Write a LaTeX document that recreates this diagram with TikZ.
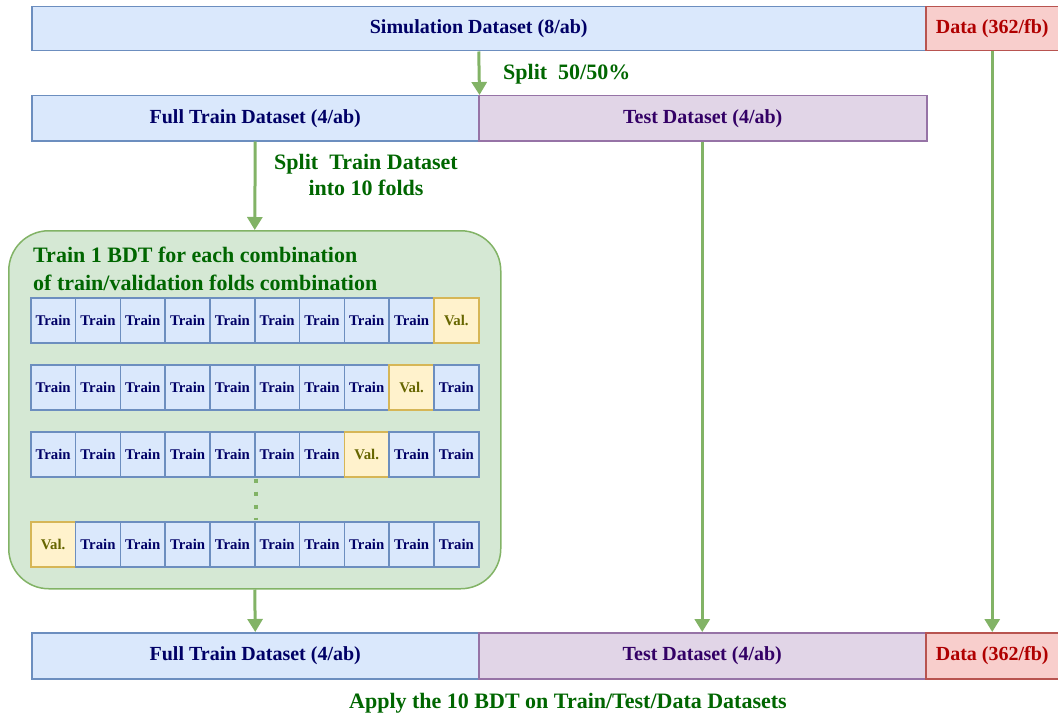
\documentclass[tikz,border=0pt]{standalone}
\usepackage{fontspec}
\setmainfont{Liberation Serif}
\usetikzlibrary{arrows.meta}
\definecolor{bfill}{HTML}{DAE8FC}\definecolor{bline}{HTML}{6C8EBF}\definecolor{btext}{HTML}{000066}
\definecolor{pfill}{HTML}{E1D5E7}\definecolor{pline}{HTML}{9673A6}\definecolor{ptext}{HTML}{330066}
\definecolor{rfill}{HTML}{F8CECC}\definecolor{rline}{HTML}{B85450}\definecolor{rtext}{HTML}{B00000}
\definecolor{yfill}{HTML}{FFF2CC}\definecolor{yline}{HTML}{D6B656}\definecolor{ytext}{HTML}{666600}
\definecolor{gfill}{HTML}{D5E8D4}\definecolor{gline}{HTML}{82B366}\definecolor{gtext}{HTML}{006600}
\tikzset{
  box/.style={draw, line width=1.5pt, inner sep=0pt, anchor=north west, font=\bfseries\fontsize{20}{24}\selectfont},
  bluebox/.style={box, fill=bfill, draw=bline, text=btext},
  purplebox/.style={box, fill=pfill, draw=pline, text=ptext},
  redbox/.style={box, fill=rfill, draw=rline, text=rtext},
  cell/.style={draw, line width=1.5pt, inner sep=0pt, anchor=north west, minimum width=44.8pt, minimum height=45pt, font=\bfseries\fontsize{14.8}{17}\selectfont},
  traincell/.style={cell, fill=bfill, draw=bline, text=btext},
  valcell/.style={cell, fill=yfill, draw=yline, text=ytext},
  flow/.style={draw=gline, line width=3pt, -{Triangle[length=13pt,width=15pt]}},
  lbl/.style={text=gtext, font=\bfseries\fontsize{22}{26}\selectfont, inner sep=0pt}
}
\begin{document}
\begin{tikzpicture}[x=1pt,y=-1pt]
\useasboundingbox (0,0) rectangle (1058,717);
% top row
\node[bluebox, minimum width=894pt, minimum height=44pt] (sim) at (31,6) {Simulation Dataset (8/ab)};
\node[redbox, minimum width=133pt, minimum height=44pt] (data) at (925,6) {Data (362/fb)};
% second row
\node[bluebox, minimum width=447pt, minimum height=45pt] (train) at (31,95) {Full Train Dataset (4/ab)};
\node[purplebox, minimum width=448pt, minimum height=45pt] (test) at (478,95) {Test Dataset (4/ab)};
\draw[flow] (sim.south) -- (train.north east);
\node[lbl, anchor=west] (splitlbl) at (503,74) {Split\ \ 50/50\%};
% green box
\node[draw=gline, fill=gfill, line width=1.5pt, rounded corners=40pt, anchor=north west, minimum width=492pt, minimum height=358pt, inner sep=0pt] (cv) at (8,230) {};
\draw[flow] (train.south) -- (cv.north);
\node[lbl, align=center, anchor=north] (split2) at (366,154) {Split\ \ Train Dataset\\into 10 folds};
\node[lbl, align=left, anchor=north west, font=\bfseries\fontsize{22}{28}\selectfont] (cvtitle) at (33,247) {Train 1 BDT for each combination\\of train/validation folds combination};
% rows of folds
\foreach \r/\y/\v in {1/297/10, 2/364/9, 3/431/8, 4/521/1}{
  \foreach \c in {1,...,10}{
    \pgfmathsetmacro{\xx}{30+(\c-1)*44.8}
    \ifnum\c=\v
      \node[valcell] (r\r c\c) at (\xx,\y) {Val.};
    \else
      \node[traincell] (r\r c\c) at (\xx,\y) {Train};
    \fi
  }
}
\draw[gline, line width=4pt, dash pattern=on 4pt off 9pt] ([yshift=-1pt]r3c5.south east) -- ([yshift=1pt]r4c5.north east);
% bottom row
\node[bluebox, minimum width=447pt, minimum height=46pt] (btrain) at (31,632) {Full Train Dataset (4/ab)};
\node[purplebox, minimum width=447pt, minimum height=46pt] (btest) at (478,632) {Test Dataset (4/ab)};
\node[redbox, minimum width=133pt, minimum height=46pt] (bdata) at (925,632) {Data (362/fb)};
\draw[flow] (cv.south) -- (btrain.north);
\draw[flow] (test.south -| btest.north) -- (btest.north);
\draw[flow] (data.south) -- (bdata.north);
\node[lbl, anchor=center] (apply) at (568,703) {Apply the 10 BDT on Train/Test/Data Datasets};
\end{tikzpicture}
\end{document}
